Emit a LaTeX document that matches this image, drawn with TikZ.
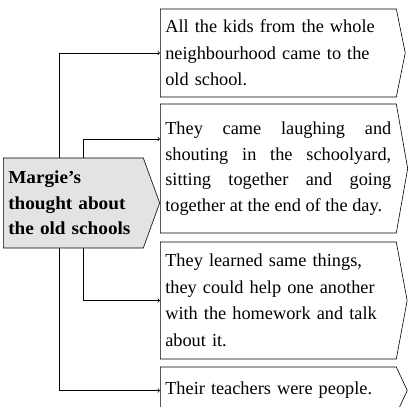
\documentclass[tikz,border=0pt]{standalone}
\usepackage{fontspec}
\setmainfont{Liberation Serif}
\newfontfamily\headfont[FakeStretch=1.05]{Liberation Serif}
\usetikzlibrary{shapes.symbols}
\begin{document}
\begin{tikzpicture}[x=1pt, y=1pt,
    point/.style={shape=signal, signal to=east, draw, line width=0.6pt,
        inner xsep=5pt, inner ysep=0pt, align=left, text width=226pt,
        font=\fontsize{18.3}{26.5}\selectfont},
    link/.style={->, line width=0.7pt}]
    \clip(0,0) rectangle (411,406);
    % the four points
    \node[point, anchor=west, minimum height=88pt, signal pointer angle=157]
        (kids) at (160,353)
        {All the kids from the whole\\ neighbourhood came to the\\ old school.};
    \node[point, anchor=west, minimum height=129pt, signal pointer angle=160,
        align=justify, font=\fontsize{18.3}{25.5}\selectfont] (play) at (160,237.5)
        {They came laughing and\linebreak shouting in the schoolyard,\linebreak sitting together and going\linebreak together at the end of the day.};
    \node[point, anchor=west, minimum height=117pt, signal pointer angle=159]
        (learn) at (160,105.5)
        {They learned same things,\\ they could help one another\\ with the homework and talk\\ about it.};
    \node[point, anchor=west, minimum height=47pt, signal pointer angle=130]
        (teach) at (160,15.5) {Their teachers were people.};
    % the main idea
    \node[point, anchor=west, text width=130pt, minimum height=90pt,
        signal pointer angle=140, fill=gray!22,
        font=\headfont\fontsize{18.3}{25.5}\selectfont\bfseries]
        (mind) at (3,203) {Margie’s\\thought about\\the old schools};
    \draw[link] ([xshift=56pt]mind.north west) |- (kids.west);
    \draw[link] ([xshift=80pt]mind.north west) |- ([yshift=29.5pt]play.west);
    \draw[link] ([xshift=80pt]mind.south west) |- (learn.west);
    \draw[link] ([xshift=56pt]mind.south west) |- (teach.west);
\end{tikzpicture}
\end{document}
